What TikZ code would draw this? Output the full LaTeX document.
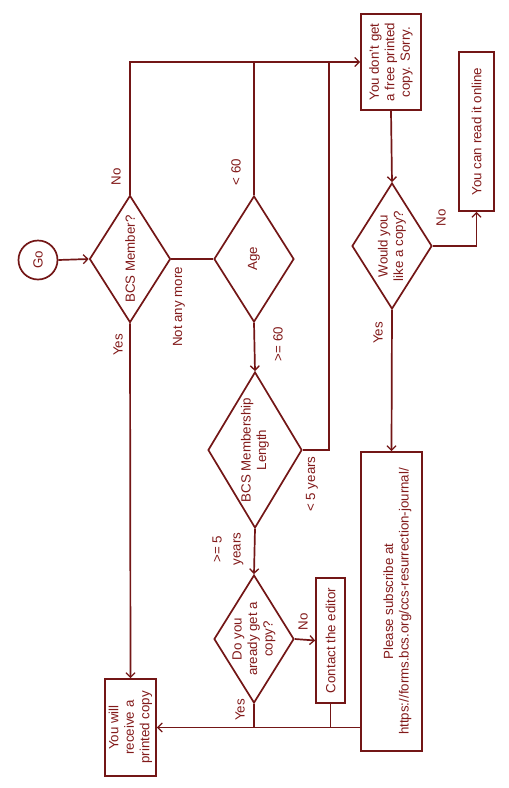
\documentclass[tikz,border=0pt]{standalone}
\usepackage{fontspec}
\setmainfont{Liberation Sans}
\usetikzlibrary{shapes.geometric,arrows.meta}
\definecolor{ink}{RGB}{115,22,22}
\definecolor{tink}{RGB}{130,26,26}
\begin{document}
\begin{tikzpicture}[x=1pt,y=-1pt,
  every node/.style={ink},
  txt/.style={rotate=90,align=center,font=\fontsize{13.3}{15.5}\selectfont,text=tink,inner sep=0pt},
  lbl/.style={rotate=90,align=center,font=\fontsize{13.3}{19}\selectfont,text=tink,inner sep=0pt},
  dia/.style={diamond,draw=ink,line width=1.7pt,inner sep=0pt},
  boxx/.style={rectangle,draw=ink,line width=1.7pt,inner sep=0pt},
  ln/.style={draw=ink,line width=1.7pt},
  arr/.style={ln,-{Straight Barb[length=4.5pt,width=9pt,line width=1.3pt]}}]
\useasboundingbox (0,0) rectangle (509,788);
\fill[white] (0,0) rectangle (509,788);

\node[circle,draw=ink,line width=1.7pt,minimum size=39pt,inner sep=0pt,label={[txt]center:Go}] (go) at (38,260) {};
\node[dia,minimum width=81pt,minimum height=127pt,label={[txt]center:BCS Member?}] (bcs) at (130,259) {};
\node[dia,minimum width=80pt,minimum height=126pt,label={[txt]center:Age}] (age) at (254,259) {};
\node[dia,minimum width=94pt,minimum height=156pt,label={[txt]center:BCS Membership\\Length}] (mem) at (255,450) {};
\node[dia,minimum width=80pt,minimum height=128pt,label={[txt]center:Do you\\aready get a\\copy?}] (doyou) at (254,639) {};
\node[dia,minimum width=80pt,minimum height=126pt,label={[txt]center:Would you\\like a copy?}] (would) at (392,246) {};

\node[boxx,minimum width=60pt,minimum height=96pt,label={[txt]center:You don't get\\a free printed\\copy. Sorry.}] (nofree) at (391,62) {};
\node[boxx,minimum width=35pt,minimum height=159pt,label={[txt]center:You can read it online}] (online) at (476.5,131.5) {};
\node[boxx,minimum width=61pt,minimum height=299pt,label={[txt,yshift=-6pt]center:Please subscribe at\\https://forms.bcs.org/ccs-resurrection-journal/}] (subs) at (391.5,601.5) {};
\node[boxx,minimum width=29pt,minimum height=125pt,label={[txt]center:Contact the editor}] (contact) at (330.5,640.5) {};
\node[boxx,minimum width=51pt,minimum height=97pt,label={[txt]center:You will\\receive a\\printed copy}] (receive) at (130.5,727.5) {};

\coordinate (j1) at (329,62);

% connectors
\draw[arr] (go.east) -- (bcs.west);
\draw[arr] (bcs.north) |- (nofree.west);
\draw[ln] (age.north) -- (age.north |- nofree.west);
\draw[ln] (bcs.east) -- (age.west);
\draw[arr] (age.south) -- (mem.north);
\draw[ln] (mem.east) -| (j1);
\draw[arr] (mem.south) -- (doyou.north);
\draw[arr] (doyou.east) -- (contact.west);
\draw[arr] (subs.west |- receive.east) -- (receive.east);
\draw[ln] (doyou.south) -- (doyou.south |- receive.east);
\draw[ln] (contact.south) -- (contact.south |- receive.east);
\draw[arr] (bcs.south) -- (receive.north);
\draw[arr] (nofree.south) -- (would.north);
\draw[arr] (would.east) -| (online.south);
\draw[arr] (would.south) -- (subs.north);

% labels
\node[lbl] (l1) at (116,177) {No};
\node[lbl] (l2) at (118,345) {Yes};
\node[lbl] (l3) at (236,172) {< 60};
\node[lbl] (l4) at (179,307) {Not any more};
\node[lbl] (l5) at (278,344) {>= 60};
\node[lbl] (l6) at (228,549) {>= 5\\years};
\node[lbl] (l7) at (312,484) {< 5 years};
\node[lbl] (l8) at (303,622) {No};
\node[lbl] (l9) at (240,710) {Yes};
\node[lbl] (l10) at (441,218) {No};
\node[lbl] (l11) at (378,333) {Yes};
\end{tikzpicture}
\end{document}
